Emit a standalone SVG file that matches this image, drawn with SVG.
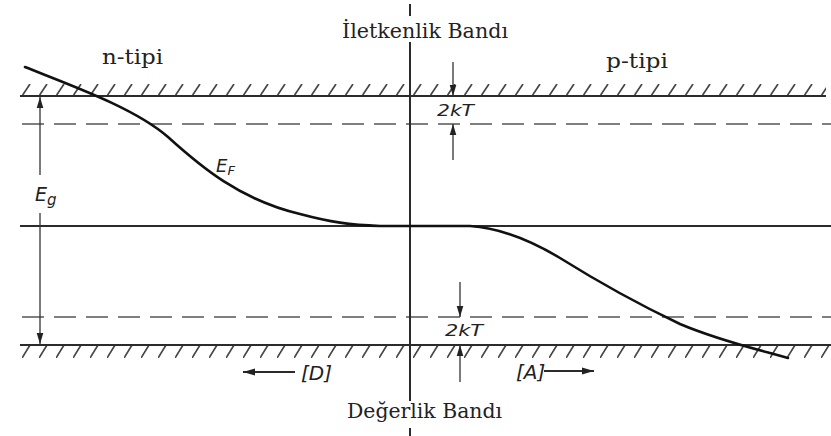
<svg xmlns="http://www.w3.org/2000/svg" width="831" height="436" viewBox="0 0 831 436">
<defs>
<style>
.band{stroke:#2b2b2b;stroke-width:2;fill:none}
.dash{stroke:#555;stroke-width:1.6;fill:none;stroke-dasharray:22 10}
.thin{stroke:#333;stroke-width:1.3;fill:none}
.curve{stroke:#111;stroke-width:2.6;fill:none;stroke-linecap:round}
.serif{font-family:"DejaVu Serif","Liberation Serif",serif;fill:#222}
.tech{font-family:"DejaVu Sans","Liberation Sans",sans-serif;font-style:italic;fill:#222}
</style>
<pattern id="hatchTop" patternUnits="userSpaceOnUse" x="22" y="84" width="17" height="12">
<line x1="0" y1="12" x2="8" y2="0" stroke="#444" stroke-width="1.7"/>
</pattern>
<pattern id="hatchBot" patternUnits="userSpaceOnUse" x="22" y="345" width="17" height="13">
<line x1="0" y1="13" x2="8" y2="0" stroke="#444" stroke-width="1.7"/>
</pattern>
<marker id="ah" viewBox="0 0 10 10" refX="10" refY="5" markerWidth="11" markerHeight="11" markerUnits="userSpaceOnUse" orient="auto">
<path d="M0,2 L10,5 L0,8 z" fill="#222"/>
</marker>
<marker id="ahb" viewBox="0 0 10 10" refX="10" refY="5" markerWidth="12" markerHeight="12" markerUnits="userSpaceOnUse" orient="auto">
<path d="M0,2 L10,5 L0,8 z" fill="#222"/>
</marker>
</defs>
<rect width="831" height="436" fill="#fff"/>
<g id="bands">
<rect x="22" y="84" width="804" height="12" fill="url(#hatchTop)"/>
<rect x="22" y="345" width="809" height="13" fill="url(#hatchBot)"/>
<line class="band" x1="20" y1="96" x2="826" y2="96"/>
<line class="dash" x1="22" y1="124" x2="831" y2="124"/>
<line class="band" x1="20" y1="226" x2="831" y2="226"/>
<line class="dash" x1="22" y1="317" x2="831" y2="317"/>
<line class="band" x1="20" y1="345" x2="831" y2="345"/>
</g>
<g id="junction">
<line class="band" x1="410" y1="4" x2="410" y2="16"/>
<line class="band" x1="410" y1="42" x2="410" y2="401"/>
<line class="band" x1="410" y1="428" x2="410" y2="436"/>
</g>
<g id="fermi-level">
<path class="curve" d="M25,67 C70,85 135,108 168,137 C200,166 240,200 300,214 C330,222 350,225 380,226 L470,226 C500,228 530,240 560,258 C600,283 640,305 680,324 C720,341 760,350 788,358"/>
</g>
<g id="connectors">
<line class="thin" x1="40" y1="175" x2="40" y2="97" marker-end="url(#ah)"/>
<line class="thin" x1="40" y1="213" x2="40" y2="344" marker-end="url(#ah)"/>
<line class="thin" x1="453" y1="62" x2="453" y2="96" marker-end="url(#ah)"/>
<line class="thin" x1="453" y1="160" x2="453" y2="124" marker-end="url(#ah)"/>
<line class="thin" x1="460" y1="282" x2="460" y2="317" marker-end="url(#ah)"/>
<line class="thin" x1="460" y1="382" x2="460" y2="345" marker-end="url(#ah)"/>
<line class="band" x1="295" y1="372" x2="243" y2="372" stroke-width="1.8" marker-end="url(#ahb)"/>
<line class="band" x1="544" y1="371" x2="594" y2="371" stroke-width="1.8" marker-end="url(#ahb)"/>
</g>
<g id="labels">
<text class="serif" x="342" y="38" font-size="20" textLength="166" lengthAdjust="spacingAndGlyphs">İletkenlik Bandı</text>
<text class="serif" x="347" y="418" font-size="20" textLength="155" lengthAdjust="spacingAndGlyphs">Değerlik Bandı</text>
<text class="serif" x="102" y="64" font-size="21" textLength="61" lengthAdjust="spacingAndGlyphs">n-tipi</text>
<text class="serif" x="606" y="68" font-size="21" textLength="62" lengthAdjust="spacingAndGlyphs">p-tipi</text>
<text class="tech" x="216" y="172" font-size="18">E<tspan font-size="13" dy="3">F</tspan></text>
<text class="tech" x="35" y="201" font-size="19">E<tspan font-size="15" dy="4">g</tspan></text>
<text class="tech" x="437" y="116" font-size="16" textLength="37" lengthAdjust="spacingAndGlyphs">2kT</text>
<text class="tech" x="445" y="336" font-size="16" textLength="38" lengthAdjust="spacingAndGlyphs">2kT</text>
<text class="tech" x="301" y="380" font-size="20">[D]</text>
<text class="tech" x="516" y="379" font-size="20">[A]</text>
</g>
</svg>
